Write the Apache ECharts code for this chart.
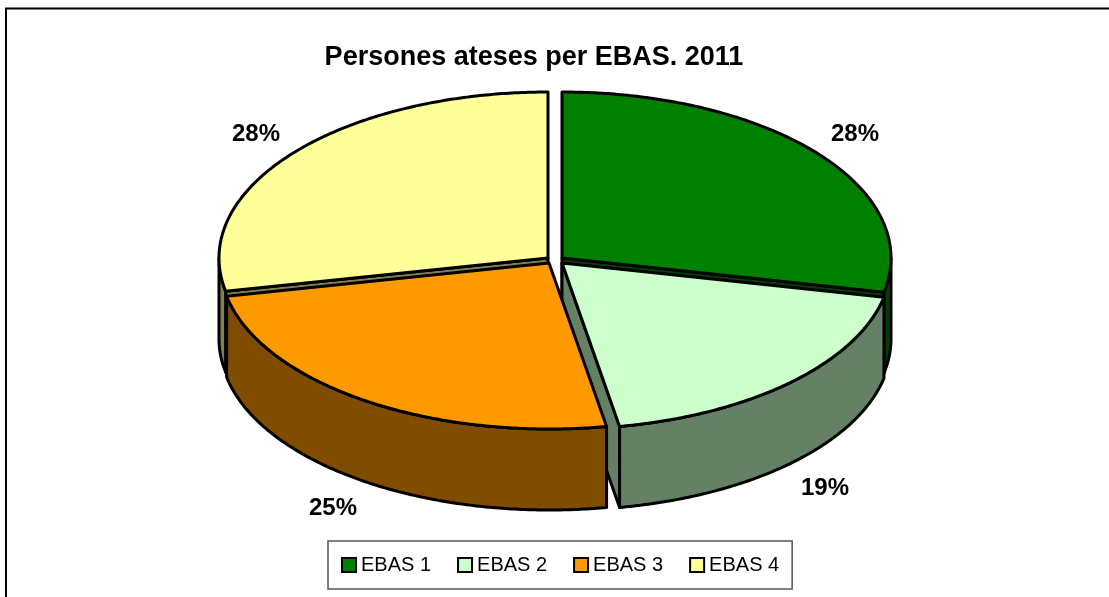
<!DOCTYPE html>
<html><head><meta charset="utf-8">
<style>html,body{margin:0;padding:0;background:#fff}#c{width:1109px;height:597px}</style>
<script src="https://cdn.jsdelivr.net/npm/echarts@6/dist/echarts.min.js"></script>
</head><body><div id="c"></div>
<script>
const titleText = 'Persones ateses per EBAS. 2011';
const categories = ['EBAS 1', 'EBAS 2', 'EBAS 3', 'EBAS 4'];
const values = [28.3, 18.9, 24.6, 28.2];
const topColors = ['#008000', '#CCFFCC', '#FF9900', '#FFFF99'];
const wallColors = ['#004000', '#668066', '#804D00', '#808050'];
const apexX = [562, 562, 549, 548];
const apexY = [258, 263, 263, 258];
const labelX = [855, 825, 333, 256];
const labelY = [134, 488, 508, 134];
const paintOrder = [1, 3, 4, 2];
const rx = 329, ry = 166, depth = 81, stroke = 3;

const total = values.reduce((a, b) => a + b, 0);
function angles(i) {
  let before = 0;
  for (let k = 0; k < i; k++) before += values[k];
  return [before / total * 2 * Math.PI, (before + values[i]) / total * 2 * Math.PI];
}
function rim(i, a, dz) {
  return [apexX[i] + rx * Math.sin(a), apexY[i] - ry * Math.cos(a) + (dz || 0)];
}
function arc(i, a0, a1, dz) {
  const n = Math.max(2, Math.ceil(Math.abs(a1 - a0) / 0.01));
  const pts = [];
  for (let k = 0; k <= n; k++) pts.push(rim(i, a0 + (a1 - a0) * k / n, dz));
  return pts;
}
function poly(points, fill) {
  return { type: 'polygon', shape: { points }, style: { fill, stroke: '#000', lineWidth: stroke, lineJoin: 'round' } };
}
function renderSlice(params, api) {
  const i = params.seriesIndex;
  const [a0, a1] = angles(i);
  const kids = [];
  const wall = wallColors[i];
  const apex = [apexX[i], apexY[i]];
  const apexLow = [apexX[i], apexY[i] + depth];
  if (Math.cos(a1) < 0 && Math.sin(a1) > 0 || i === 0) {
    kids.push(poly([apex, rim(i, a1), rim(i, a1, depth), apexLow], wall));
  }
  if (i === 3) {
    kids.push(poly([apex, rim(i, a0), rim(i, a0, depth), apexLow], wall));
  }
  const v0 = Math.max(a0, Math.PI / 2), v1 = Math.min(a1, 3 * Math.PI / 2);
  if (v1 > v0) {
    kids.push(poly(arc(i, v0, v1).concat(arc(i, v1, v0, depth)), wall));
  }
  kids.push(poly([apex].concat(arc(i, a0, a1)), topColors[i]));
  kids.push({
    type: 'text',
    style: { x: labelX[i], y: labelY[i], text: Math.round(api.value(0) / total * 100) + '%',
      fill: '#000', font: 'bold 24px "Liberation Sans"', align: 'center', verticalAlign: 'middle' }
  });
  return { type: 'group', children: kids };
}
const chart = echarts.init(document.getElementById('c'), null, { renderer: 'canvas' });
chart.setOption({
  animation: false,
  backgroundColor: '#fff',
  title: { text: titleText, left: 534, top: 58, textAlign: 'center', textVerticalAlign: 'middle',
    textStyle: { fontFamily: 'Liberation Sans', fontWeight: 'bold', fontSize: 27, color: '#000' }, padding: 0 },
  legend: {
    data: categories, left: 328, top: 541,
    padding: [14, 13, 14, 13], itemWidth: 14, itemHeight: 14, itemGap: 26,
    backgroundColor: '#fff', borderColor: '#555', borderWidth: 1.5, borderRadius: 0,
    icon: 'rect', selectedMode: false,
    textStyle: { fontFamily: 'Liberation Sans', fontSize: 20, color: '#000' },
    itemStyle: { borderColor: '#000', borderWidth: 2 }
  },
  graphic: [{
    type: 'polyline', silent: true, z: 0,
    shape: { points: [[6, 597], [6, 8.5], [1109, 8.5]] },
    style: { stroke: '#000', lineWidth: 2, fill: null }
  }],
  series: categories.map((name, i) => ({
    type: 'custom', name, coordinateSystem: 'none', z: paintOrder[i] + 1,
    itemStyle: { color: topColors[i] },
    data: [values[i]],
    renderItem: renderSlice
  }))
});
</script></body></html>
